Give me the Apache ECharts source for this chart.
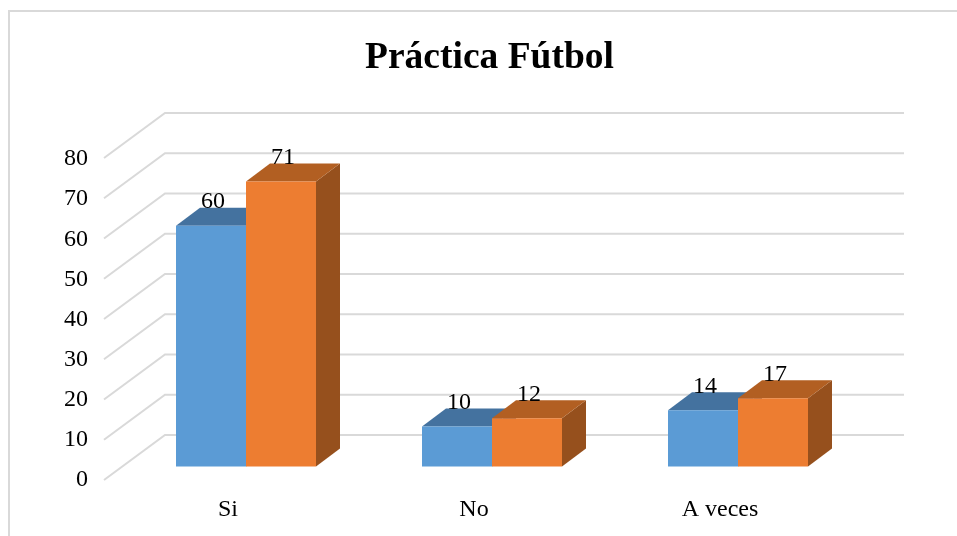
<!DOCTYPE html>
<html>
<head>
<meta charset="utf-8">
<style>html,body{margin:0;padding:0;background:#fff}#c{width:957px;height:536px}</style>
<script src="https://cdn.jsdelivr.net/npm/echarts@6/dist/echarts.min.js"></script>
</head>
<body>
<div id="c"></div>
<script>
const titleText = 'Práctica Fútbol';
const categories = ['Si', 'No', 'A veces'];
const serieA = [60, 10, 14];
const serieB = [71, 12, 17];
const yTicks = [0, 10, 20, 30, 40, 50, 60, 70, 80];

const FONT = '"Liberation Serif","Times New Roman",serif';
const DEPTH_X = 24, DEPTH_Y = 18, BAR_W = 70;

function barSeries(name, values, side, front, top, flank) {
  return {
    type: 'custom', name: name,
    data: values.map((v, i) => [i, v]),
    encode: { x: 0, y: 1 },
    renderItem: (params, api) => {
      const p = api.coord([api.value(0), api.value(1)]);
      const b = api.coord([api.value(0), 0]);
      const x0 = side < 0 ? p[0] - BAR_W : p[0];
      const x1 = x0 + BAR_W, yt = p[1], yb = b[1];
      const poly = (pts, fill) => ({ type: 'polygon', shape: { points: pts }, style: { fill: fill } });
      return {
        type: 'group',
        children: [
          poly([[x1, yt], [x1 + DEPTH_X, yt - DEPTH_Y], [x1 + DEPTH_X, yb - DEPTH_Y], [x1, yb]], flank),
          poly([[x0, yt], [x0 + DEPTH_X, yt - DEPTH_Y], [x1 + DEPTH_X, yt - DEPTH_Y], [x1, yt]], top),
          { type: 'rect', shape: { x: x0, y: yt, width: BAR_W, height: yb - yt }, style: { fill: front } },
          { type: 'text', z2: 100, x: (x0 + x1) / 2 + 2, y: yt - 24,
            style: { text: String(api.value(1)), font: '24px ' + FONT, fill: '#000', align: 'center', verticalAlign: 'middle' } }
        ]
      };
    }
  };
}

const hiddenValueAxis = (gridIndex) => ({
  gridIndex, type: 'value', min: 0, max: 80, interval: 10,
  axisLine: { show: false }, axisTick: { show: false }, splitLine: { show: false },
  axisLabel: { show: false }
});

const chart = echarts.init(document.getElementById('c'), null, { renderer: 'canvas' });
chart.setOption({
  animation: false,
  backgroundColor: '#fff',
  graphic: [{
    type: 'rect', silent: true, z: -1,
    shape: { x: 9, y: 11, width: 1000, height: 600 },
    style: { fill: 'none', stroke: '#d9d9d9', lineWidth: 2 }
  }],
  title: {
    text: titleText, left: 484.5, top: 34, textAlign: 'center',
    textStyle: { fontFamily: FONT, fontWeight: 'bold', fontSize: 37.5, color: '#000' }
  },
  grid: [
    { left: 123, top: 145.5, width: 738, height: 321 },
    { left: 88, top: 159, width: 738, height: 321 },
    { left: 165, top: 113, width: 739, height: 322 }
  ],
  xAxis: [{
    gridIndex: 0, type: 'category', data: categories,
    axisLine: { show: false }, axisTick: { show: false }, splitLine: { show: false },
    axisLabel: { margin: 31, padding: [0, 36, 0, 0], fontFamily: FONT, fontSize: 24, color: '#000' }
  }, {
    gridIndex: 1, type: 'category', data: categories, show: false
  }, {
    gridIndex: 2, type: 'category', data: categories, show: false
  }],
  yAxis: [hiddenValueAxis(0), {
    gridIndex: 1, type: 'value', min: 0, max: 80, interval: 10,
    axisLine: { show: false }, axisTick: { show: false }, splitLine: { show: false },
    axisLabel: { margin: 0, fontFamily: FONT, fontSize: 24, color: '#000' }
  }, hiddenValueAxis(2)],
  series: [
    {
      type: 'custom', name: 'rejilla', silent: true,
      xAxisIndex: 2, yAxisIndex: 2,
      data: yTicks.map(v => [0, v]),
      encode: { x: 0, y: 1 },
      renderItem: (params, api) => {
        const y = api.coord([0, api.value(1)])[1];
        const left = params.coordSys.x, right = left + params.coordSys.width;
        return {
          type: 'polyline',
          shape: { points: [[left - 61, y + 45], [left, y], [right, y]] },
          style: { fill: 'none', stroke: '#d9d9d9', lineWidth: 2 }
        };
      }
    },
    barSeries('Serie 1', serieA, -1, '#5b9bd5', '#44729f', '#3f6a94'),
    barSeries('Serie 2', serieB, 1, '#ed7d31', '#b25f22', '#96501d')
  ]
});
</script>
</body>
</html>
